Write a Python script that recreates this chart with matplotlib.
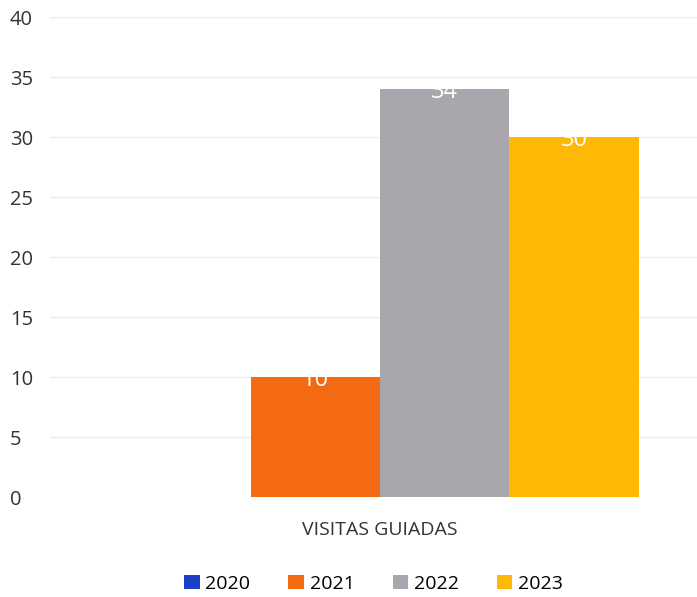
import matplotlib.pyplot as plt
import numpy as np

plt.rcParams['font.family'] = ['Open Sans', 'DejaVu Sans']

# Visitas guiadas por año
categoria = 'VISITAS GUIADAS'
anios = ['2020', '2021', '2022', '2023']
visitas = [0, 10, 34, 30]
colores = ['#1f3fc4', '#f46a12', '#aaa6ae', '#ffb806']

fig = plt.figure(figsize=(6.97, 5.97), dpi=100)
ax = fig.add_axes([0.072, 0.1675, 0.928, 0.804])

ancho = 0.2
offsets = (np.arange(len(anios)) - (len(anios) - 1) / 2) * ancho
for off, anio, val, col in zip(offsets, anios, visitas, colores):
    ax.bar(off, val, width=ancho, color=col, label=anio, zorder=2)
    if val > 0:
        # etiqueta blanca pegada al borde superior de la barra
        ax.text(off, val - 1.25, str(val), ha='center', va='bottom',
                color='white', fontsize=17, zorder=3)

ax.set_xlim(-0.51, 0.49)
ax.set_ylim(0, 40)
ax.set_yticks(range(0, 41, 5))
ax.yaxis.grid(True, color='#ececec', linewidth=0.9, zorder=0)
ax.yaxis.get_gridlines()[0].set_visible(False)
ax.set_axisbelow(True)
for s in ax.spines.values():
    s.set_visible(False)
ax.tick_params(axis='y', length=0, labelsize=14.5, labelcolor='#333333', pad=29)
for lbl in ax.get_yticklabels():
    lbl.set_horizontalalignment('left')
ax.set_xticks([0])
ax.set_xticklabels([categoria], fontsize=14, color='#333333')
ax.tick_params(axis='x', length=0, pad=17)

ax.legend(loc='upper center', bbox_to_anchor=(0.5, -0.125), ncol=4,
          frameon=False, fontsize=14, handlelength=0.8, handleheight=0.8,
          handletextpad=0.3, columnspacing=1.95)

fig.savefig('out.png', dpi=100)
